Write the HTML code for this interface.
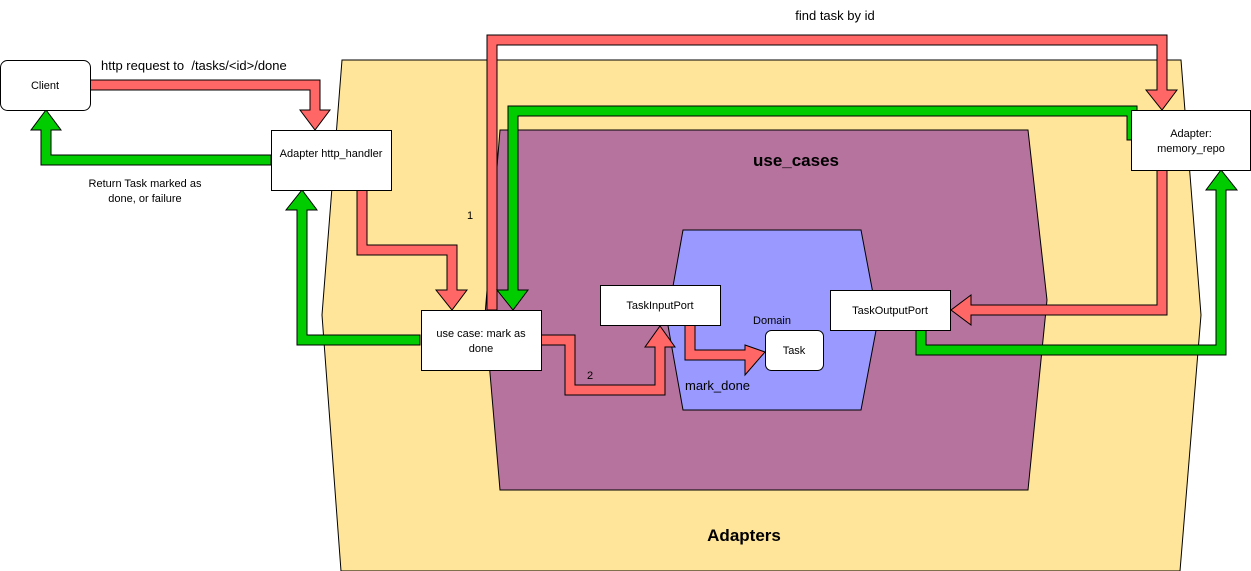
<!DOCTYPE html>
<html><head><meta charset="utf-8"><style>
html,body{margin:0;padding:0;background:#fff;}
svg{display:block;font-family:"Liberation Sans",Arial,sans-serif;}
</style></head><body>
<svg width="1251" height="571" viewBox="0 0 1251 571" xmlns="http://www.w3.org/2000/svg">
<polygon points="342,60 1181,60 1201,315 1180,571 341,571 322,315" fill="#FFE599" stroke="#000" stroke-width="1"/>
<polygon points="500,130 1028,130 1047,300 1028,490 500,490 485,315" fill="#B5739D" stroke="#000" stroke-width="1"/>
<polygon points="683,230 861,230 878,320 861,410 683,410 667,320" fill="#9999FF" stroke="#000" stroke-width="1"/>

<g stroke="#000" stroke-width="1" stroke-linejoin="miter">
<polygon fill="#FF6666" points="90,80 320,80 320,110 330,110 315,130 300,110 310,110 310,90 90,90"/>
<polygon fill="#00CC00" points="271,165 41,165 41,130 31,130 46,110 61,130 51,130 51,155 271,155"/>
<polygon fill="#FF6666" points="357,190 357,255 447,255 447,290 436,290 452,310 467,290 457,290 457,245 367,245 367,190"/>
<polygon fill="#00CC00" points="420,345 297,345 297,210 286,210 302,190 317,210 307,210 307,335 420,335"/>
<polygon fill="#FF6666" points="487,310 487,35 1167,35 1167,90 1177,90 1162,110 1146,90 1157,90 1157,45 497,45 497,310"/>
<polygon fill="#00CC00" points="1137,140 1127,140 1127,116 518,116 518,290 528,290 513,310 497,290 508,290 508,106 1137,106"/>
<polygon fill="#FF6666" points="541,335 575,335 575,385 655,385 655,347 645,347 660,326 675,347 665,347 665,395 565,395 565,345 541,345"/>
<polygon fill="#FF6666" points="685,325 685,360 745,360 745,375 765,352 745,345 745,350 695,350 695,325"/>
<polygon fill="#FF6666" points="1157,170 1157,305 971,305 971,295 951,310 971,325 971,315 1167,315 1167,170"/>
<polygon fill="#00CC00" points="916,330 916,355 1226,355 1226,190 1237,190 1221,170 1206,190 1216,190 1216,345 926,345 926,330"/>
</g>

<g fill="#fff" stroke="#000" stroke-width="1">
<rect x="0.5" y="60.5" width="90" height="50" rx="7"/>
<rect x="271.5" y="130.5" width="120" height="60"/>
<rect x="421.5" y="310.5" width="120" height="60"/>
<rect x="600.5" y="285.5" width="120" height="40"/>
<rect x="765.5" y="330.5" width="58" height="40" rx="6"/>
<rect x="830.5" y="290.5" width="120" height="40"/>
<rect x="1131.5" y="110.5" width="119" height="60"/>
</g>

<g font-size="11" fill="#000" text-anchor="middle">
<text x="45" y="89">Client</text>
<text x="331" y="157">Adapter http_handler</text>
<text x="481" y="337">use case: mark as</text>
<text x="481" y="352">done</text>
<text x="660" y="309">TaskInputPort</text>
<text x="794" y="354">Task</text>
<text x="890" y="314">TaskOutputPort</text>
<text x="1191" y="137">Adapter:</text>
<text x="1191" y="152">memory_repo</text>
<text x="145" y="187">Return Task marked as</text>
<text x="145" y="202">done, or failure</text>
<text x="772" y="324">Domain</text>
<text x="470" y="219">1</text>
<text x="590" y="379">2</text>
</g>
<text x="101" y="70" font-size="13">http request to&#160; /tasks/&lt;id&gt;/done</text>
<text x="835" y="20" font-size="13" text-anchor="middle">find task by id</text>
<text x="685" y="390" font-size="13">mark_done</text>
<text x="796" y="166" font-size="17" font-weight="bold" text-anchor="middle">use_cases</text>
<text x="744" y="541" font-size="17" font-weight="bold" text-anchor="middle">Adapters</text>
</svg>
</body></html>
